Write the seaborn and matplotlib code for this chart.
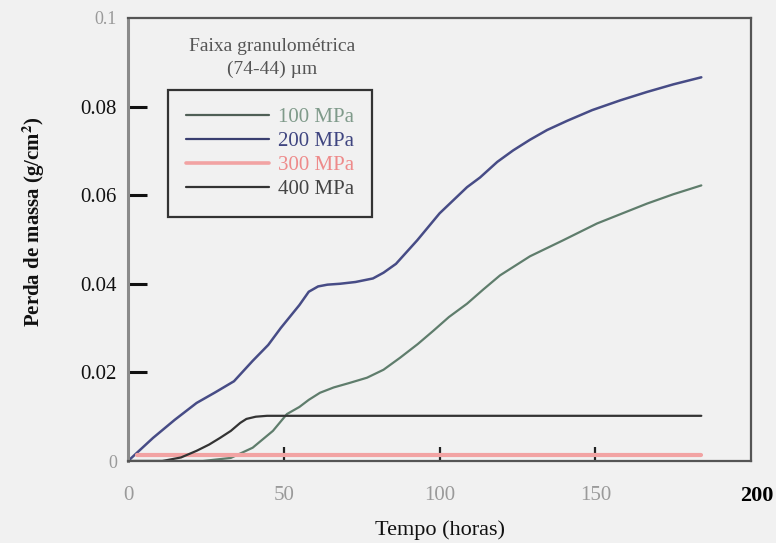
import numpy as np
import pandas as pd
import matplotlib
matplotlib.use("Agg")
import matplotlib.pyplot as plt
import matplotlib.transforms as mtransforms
from matplotlib.lines import Line2D
import seaborn as sns

# Mass loss curves for compacts of the (74-44) µm size fraction
pressures = ["100 MPa", "200 MPa", "300 MPa", "400 MPa"]

t_100 = [0, 24, 33, 40, 46.5, 51, 55, 58, 61.6, 66, 71, 76.7, 82, 87.3, 93, 98,
         103, 108.8, 114, 119.4, 129, 139.6, 150.5, 158, 166.6, 175, 184]
v_100 = [0, 0, 0.0007, 0.003, 0.0068, 0.0106, 0.0122, 0.0138, 0.0154, 0.0166,
         0.0176, 0.0188, 0.0206, 0.0233, 0.0264, 0.0294, 0.0325, 0.0355, 0.0387,
         0.0419, 0.0462, 0.0498, 0.0536, 0.0557, 0.0581, 0.0602, 0.0622]

t_200 = [0, 8, 15, 22, 28, 34, 40, 45, 49, 55, 58, 61, 64, 68, 73, 78.6, 82, 86,
         92.8, 100, 108.8, 113, 118.5, 123.6, 129, 134.5, 141, 149, 158, 166.6,
         175, 184]
v_200 = [0, 0.0052, 0.0093, 0.0131, 0.0155, 0.018, 0.0226, 0.0262, 0.030, 0.0352,
         0.0382, 0.0394, 0.0398, 0.0400, 0.0404, 0.0412, 0.0425, 0.0445, 0.0498,
         0.0559, 0.0618, 0.0640, 0.0675, 0.0701, 0.0725, 0.0747, 0.0768, 0.0792,
         0.0814, 0.0833, 0.0850, 0.0866]

t_300 = [3, 50, 100, 150, 184]
v_300 = [0.0013, 0.0013, 0.0013, 0.0013, 0.0013]

t_400 = [0, 11, 17, 22, 26, 29.5, 33, 36, 38, 41, 44.6, 100, 150, 184]
v_400 = [0, 0, 0.0008, 0.0023, 0.0037, 0.0052, 0.0068, 0.0086, 0.0095, 0.0100,
         0.0102, 0.0102, 0.0102, 0.0102]

x_ticks = [0, 50, 100, 150, 200]
y_ticks = [0, 0.02, 0.04, 0.06, 0.08, 0.1]
y_tick_labels = ["0", "0.02", "0.04", "0.06", "0.08", "0.1"]

line_colors = ["#5f7d6c", "#474c86", "#f2a3a3", "#333333"]
label_colors = ["#7f9a8a", "#3f4580", "#ee8a8a", "#444444"]
line_widths = [1.6, 1.8, 3.0, 1.6]

frames = []
for name, t, v in zip(pressures, [t_100, t_200, t_300, t_400],
                      [v_100, v_200, v_300, v_400]):
    frames.append(pd.DataFrame({"Tempo": t, "Perda": v, "Pressao": name}))
df = pd.concat(frames, ignore_index=True)

sns.set_theme(style="white")
plt.rcParams["font.family"] = ["Liberation Serif", "DejaVu Serif"]
plt.rcParams["mathtext.fontset"] = "stix"

bg = "#f1f1f1"
fig = plt.figure(figsize=(7.76, 5.43), dpi=100, facecolor=bg)
ax = fig.add_axes([0.165, 0.151, 0.803, 0.816], facecolor=bg)

for name, col, lw in zip(pressures, line_colors, line_widths):
    sns.lineplot(data=df[df["Pressao"] == name], x="Tempo", y="Perda",
                 color=col, linewidth=lw, estimator=None, sort=True,
                 ax=ax, legend=False)

ax.set_xlim(0, 200)
ax.set_ylim(0, 0.1)

ax.set_xticks(x_ticks)
ax.set_xticklabels([str(v) for v in x_ticks])
ax.set_yticks(y_ticks)
ax.set_yticklabels(y_tick_labels)

ax.tick_params(axis="y", which="major", left=True, direction="in", length=14,
               width=2.2, color="#111111", labelsize=15, pad=8)
ax.tick_params(axis="x", which="major", bottom=True, direction="in", length=10,
               width=1.6, color="#222222", labelsize=15, pad=18)

for lab, txt in zip(ax.get_yticklabels(), y_tick_labels):
    if txt in ("0", "0.1"):
        lab.set_color("#9a9a9a")
        lab.set_fontsize(13)
    else:
        lab.set_color("#111111")
shift_right = mtransforms.ScaledTranslation(6 / 100, 0, fig.dpi_scale_trans)
for lab, val in zip(ax.get_xticklabels(), x_ticks):
    if val == 200:
        lab.set_color("#000000")
        lab.set_fontweight("bold")
        lab.set_fontsize(16)
        lab.set_transform(lab.get_transform() + shift_right)
    else:
        lab.set_color("#9a9a9a")

# No tick marks at the axis ends
for tk in ax.yaxis.get_major_ticks():
    if abs(tk.get_loc() - 0.1) < 1e-9 or abs(tk.get_loc()) < 1e-9:
        tk.tick1line.set_visible(False)
for tk in ax.xaxis.get_major_ticks():
    if tk.get_loc() in (0, 200):
        tk.tick1line.set_visible(False)

for side in ["top", "right", "bottom"]:
    ax.spines[side].set_color("#555555")
    ax.spines[side].set_linewidth(1.6)
ax.spines["left"].set_color("#8a8a8a")
ax.spines["left"].set_linewidth(2.2)

ax.set_xlabel("Tempo (horas)", fontsize=16, color="#111111", labelpad=10)
ax.set_ylabel("Perda de massa (g/cm$^{\\mathbf{2}}$)", fontsize=15,
              fontweight="bold", color="#111111")
ax.yaxis.set_label_coords(-0.13, 0.54)

# Legend: caption above a framed box with coloured entries
ax.text(0.231, 0.955, "Faixa granulométrica\n(74-44) µm", transform=ax.transAxes,
        ha="center", va="top", fontsize=14, color="#555555", linespacing=1.45)

handles = [Line2D([0], [0], color=c, lw=(2.6 if i == 2 else 1.6))
           for i, c in enumerate(["#4f5f56", "#3a3f70", "#f2a3a3", "#333333"])]
leg = ax.legend(handles, pressures, loc="upper left",
                bbox_to_anchor=(0.064, 0.838), frameon=True, fancybox=False,
                edgecolor="#333333", facecolor=bg, framealpha=1.0,
                fontsize=15, handlelength=4.0, handletextpad=0.45,
                labelspacing=0.22, borderpad=0.85, borderaxespad=0)
leg.get_frame().set_linewidth(1.6)
for txt, col in zip(leg.get_texts(), label_colors):
    txt.set_color(col)

fig.savefig("out.png", dpi=100, facecolor=bg)
